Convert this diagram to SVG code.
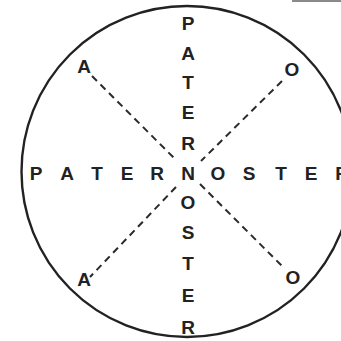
<svg xmlns="http://www.w3.org/2000/svg" width="341" height="341" viewBox="0 0 341 341">
<style>
.t{font-family:"Liberation Sans",Arial,sans-serif;font-weight:700;font-size:19px;fill:#222222;text-anchor:middle}
.d{stroke:#2a2a2a;stroke-width:2;stroke-dasharray:7 5;fill:none}
</style>
<rect width="341" height="341" fill="#ffffff"/>
<line x1="292" y1="1" x2="341" y2="1" stroke="#8a8a8a" stroke-width="2"/>
<g id="circle"><circle cx="187" cy="171.5" r="165.5" fill="none" stroke="#222222" stroke-width="2.4"/></g>
<g id="connectors">
<line class="d" x1="92" y1="76" x2="176" y2="160"/>
<line class="d" x1="200" y1="184" x2="283" y2="267"/>
<line class="d" x1="282" y1="81" x2="201" y2="161"/>
<line class="d" x1="176" y1="187" x2="90" y2="277"/>
</g>
<g id="corners">
<text class="t" x="84" y="73">A</text>
<text class="t" x="292" y="76">O</text>
<text class="t" x="84" y="286">A</text>
<text class="t" x="293" y="284">O</text>
</g>
<g id="vertical">
<text class="t" x="188" y="30">P</text>
<text class="t" x="188" y="60">A</text>
<text class="t" x="188" y="89">T</text>
<text class="t" x="188" y="119">E</text>
<text class="t" x="188" y="150">R</text>
<text class="t" x="188" y="179.5">N</text>
<text class="t" x="188" y="209">O</text>
<text class="t" x="188" y="239">S</text>
<text class="t" x="188" y="270">T</text>
<text class="t" x="188" y="302">E</text>
<text class="t" x="188" y="334">R</text>
</g>
<g id="horizontal">
<text class="t" x="36" y="179.5">P</text>
<text class="t" x="67" y="179.5">A</text>
<text class="t" x="97" y="179.5">T</text>
<text class="t" x="127" y="179.5">E</text>
<text class="t" x="157" y="179.5">R</text>
<text class="t" x="218" y="179.5">O</text>
<text class="t" x="249" y="179.5">S</text>
<text class="t" x="281" y="179.5">T</text>
<text class="t" x="311" y="179.5">E</text>
<text class="t" x="342" y="179.5">R</text>
</g>
</svg>
